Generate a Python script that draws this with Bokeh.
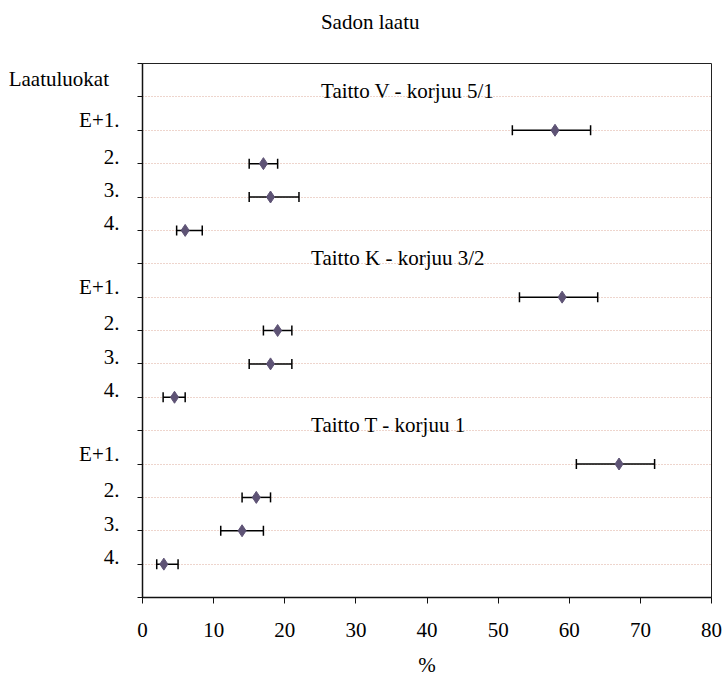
from bokeh.plotting import figure
from bokeh.models import (Range1d, FixedTicker, Whisker, TeeHead, ColumnDataSource,
                          Label, LinearAxis)
from bokeh.embed import file_html
from bokeh.resources import INLINE

# ---------------- data ----------------
chart_title = "Sadon laatu"
axis_title = "%"
header = "Laatuluokat"
groups = ["Taitto V - korjuu 5/1", "Taitto K - korjuu 3/2", "Taitto T - korjuu 1"]
classes = ["E+1.", "2.", "3.", "4."]

v_mean = [58, 17, 18, 6]
v_low = [52, 15, 15, 4.8]
v_high = [63, 19, 22, 8.4]

k_mean = [59, 19, 18, 4.5]
k_low = [53, 17, 15, 2.9]
k_high = [64, 21, 21, 6]

t_mean = [67, 16, 14, 3]
t_low = [61, 14, 11, 2]
t_high = [72, 18, 17, 5]

x_ticks = [0, 10, 20, 30, 40, 50, 60, 70, 80]

# ---------------- layout / style ----------------
FONT = "Liberation Serif"
FS = "21px"
MARK = "#5e5375"
GRID = "#dcaa9a"
n_rows = 16
class_label_lift = [0.3, 0.21, 0.21, 0.21]   # tick labels are drawn centred
header_pos = 15.55
group_title_x = [25.1, 23.7, 23.7]
group_title_dy = 0.82

means = [v_mean, k_mean, t_mean]
lows = [v_low, k_low, t_low]
highs = [v_high, k_high, t_high]

ys, xs, lo, hi = [], [], [], []
label_ticks, label_map = [], {}
for g in range(len(groups)):
    for c in range(len(classes)):
        row = n_rows - 5 * g - 2 - c
        ys.append(row)
        xs.append(means[g][c])
        lo.append(lows[g][c])
        hi.append(highs[g][c])
        t = round(row + class_label_lift[c], 3)
        label_ticks.append(t)
        label_map[t] = classes[c]
label_ticks.append(header_pos)
label_map[header_pos] = header + "\u00a0\u00a0"

src = ColumnDataSource(dict(y=ys, x=xs, lo=lo, hi=hi))

p = figure(width=722, height=679, output_backend="svg", toolbar_location=None,
           x_range=Range1d(0, 80), y_range=Range1d(0, n_rows),
           min_border_left=142, min_border_right=11, min_border_top=63,
           min_border_bottom=82)
p.background_fill_color = "white"
p.border_fill_color = "white"
p.outline_line_color = "#222222"
p.outline_line_width = 1

# invisible spacer axis above the frame, pushes the title upwards
spacer = LinearAxis(ticker=FixedTicker(ticks=[40]), major_tick_out=24, major_tick_in=0,
                    major_label_standoff=0, axis_line_color=None,
                    major_tick_line_color=None, minor_tick_line_color=None,
                    major_label_overrides={40: ""},
                    major_label_text_font_size="1px")
p.add_layout(spacer, "above")

# title
p.title.text = chart_title
p.title.text_font = FONT
p.title.text_font_size = FS
p.title.text_font_style = "normal"
p.title.text_color = "black"
p.title.align = "left"
p.title.offset = 178.4
p.title.standoff = 12

# grid
p.xgrid.visible = False
p.ygrid.ticker = FixedTicker(ticks=list(range(1, n_rows)))
p.ygrid.grid_line_color = GRID
p.ygrid.grid_line_dash = "1 2"
p.ygrid.grid_line_width = 1

# x axis
xax = p.below[0]
xax.ticker = FixedTicker(ticks=x_ticks)
xax.major_tick_out = 6
xax.major_tick_in = 0
xax.minor_tick_line_color = None
xax.axis_line_color = "#111111"
xax.axis_line_width = 1.5
xax.major_tick_line_color = "#111111"
xax.major_label_text_font = FONT
xax.major_label_text_font_size = FS
xax.major_label_text_color = "black"
xax.major_label_standoff = 19
xax.axis_label = axis_title
xax.axis_label_text_font = FONT
xax.axis_label_text_font_size = FS
xax.axis_label_text_font_style = "normal"
xax.axis_label_text_color = "black"
xax.axis_label_standoff = 13

# y axis: minor ticks at row boundaries, labels as major ticks (no tick marks)
yax = p.left[0]
yax.ticker = FixedTicker(ticks=label_ticks, minor_ticks=list(range(0, n_rows + 1)))
yax.major_label_overrides = label_map
yax.major_tick_line_color = None
yax.major_tick_out = 0
yax.major_tick_in = 0
yax.minor_tick_line_color = "#111111"
yax.minor_tick_out = 5
yax.minor_tick_in = 0
yax.axis_line_color = "#111111"
yax.axis_line_width = 1.5
yax.major_label_standoff = 18
yax.major_label_text_font = FONT
yax.major_label_text_font_size = FS
yax.major_label_text_color = "black"

# error bars
wh = Whisker(base="y", lower="lo", upper="hi", dimension="width", source=src,
             line_color="black", line_width=1.5,
             lower_head=TeeHead(size=10, line_color="black", line_width=1.5),
             upper_head=TeeHead(size=10, line_color="black", line_width=1.5))
p.add_layout(wh)

# markers
p.scatter("x", "y", source=src, marker="diamond", size=12,
          fill_color=MARK, line_color=MARK)

# group titles
for g, name in enumerate(groups):
    p.add_layout(Label(x=group_title_x[g], y=n_rows - 5 * g - group_title_dy,
                       text=name, text_align="left", text_baseline="alphabetic",
                       text_font=FONT, text_font_size=FS, text_color="black"))

open("out.html", "w").write(file_html(p, INLINE))
